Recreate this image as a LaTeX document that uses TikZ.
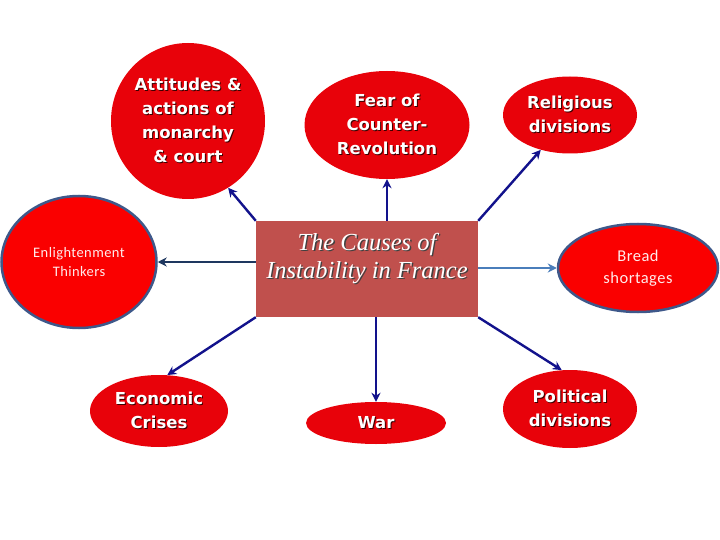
\documentclass[tikz,border=0pt]{standalone}
\usepackage{fontspec}
\usetikzlibrary{shapes.geometric,arrows.meta,calc}
\setmainfont{Liberation Serif}
\newfontfamily\comicf{DejaVu Sans}
\newfontfamily\calib{Carlito}[LetterSpace=3]
\definecolor{redfill}{RGB}{232,2,10}
\definecolor{brightred}{RGB}{250,0,0}
\definecolor{rimblue}{RGB}{62,88,138}
\definecolor{boxred}{RGB}{192,80,77}
\definecolor{navyarr}{RGB}{18,18,140}
\definecolor{darkarr}{RGB}{30,55,95}
\definecolor{lightarr}{RGB}{74,126,187}
\definecolor{shadowc}{RGB}{60,0,0}
\newcommand\sh[1]{\leavevmode\rlap{\kern1pt\raisebox{-1pt}{\textcolor{shadowc}{#1}}}#1}
\newcommand\shb[1]{\leavevmode\rlap{\kern1.3pt\raisebox{-1.3pt}{\textcolor{black!75}{#1}}}#1}
\begin{document}
\begin{tikzpicture}[x=1pt,y=-1pt,
  cause/.style={ellipse, fill=redfill, draw=none, inner sep=0pt, text=white,
    align=center, font=\comicf\bfseries\fontsize{16.5}{24}\selectfont},
  rimmed/.style={ellipse, fill=brightred, draw=rimblue, line width=2.5pt, inner sep=0pt,
    text=white!92!red, align=center},
  arr/.style={draw=navyarr, line width=2.4pt, -{Stealth[length=9pt,width=9pt]}},
]
\useasboundingbox[fill=white] (0,0) rectangle (720,540);

\node[draw=none, fill=boxred, minimum width=222pt, minimum height=96pt, inner sep=0pt,
  text=white, font=\itshape\fontsize{24.5}{28}\selectfont] (c) at (367,269)
  {\raisebox{4pt}[0pt][0pt]{\begin{tabular}{@{}c@{}}\shb{The Causes of}\\ \shb{Instability in France}\end{tabular}}};

\node[cause, minimum width=154pt, minimum height=156pt] (att) at (188,121)
  {\sh{Attitudes \&}\\ \sh{actions of}\\ \sh{monarchy}\\ \sh{\& court}};
\node[cause, minimum width=165pt, minimum height=108pt] (fear) at (387,125)
  {\sh{Fear of}\\ \sh{Counter-}\\ \sh{Revolution}};
\node[cause, minimum width=134pt, minimum height=77pt] (rel) at (570,115)
  {\sh{Religious}\\ \sh{divisions}};
\node[rimmed, minimum width=155pt, minimum height=132pt,
  font=\calib\fontsize{14.5}{19}\selectfont] (enl) at (79,262)
  {Enlightenment\\ Thinkers};
\node[rimmed, minimum width=160pt, minimum height=88pt,
  font=\calib\fontsize{16.5}{22}\selectfont] (bread) at (638,268)
  {Bread\\ shortages};
\node[cause, minimum width=138pt, minimum height=72pt] (eco) at (159,411)
  {\sh{Economic}\\ \sh{Crises}};
\node[cause, minimum width=140pt, minimum height=42pt] (war) at (376,423)
  {\sh{War}};
\node[cause, minimum width=134pt, minimum height=78pt] (pol) at (570,409)
  {\sh{Political}\\ \sh{divisions}};

\draw[arr] (c.north west) -- (att.-59);
\draw[arr] (c.north -| fear.south) -- (fear.south);
\draw[arr] (c.north east) -- (rel.230);
\draw[arr, draw=darkarr] (c.west |- enl.east) -- (enl.east);
\draw[arr, draw=lightarr] (c.east |- bread.west) -- (bread.west);
\draw[arr] (c.south west) -- (eco.77);
\draw[arr] (c.south -| war.north) -- (war.north);
\draw[arr] (c.south east) -- (pol.102);
\end{tikzpicture}
\end{document}
